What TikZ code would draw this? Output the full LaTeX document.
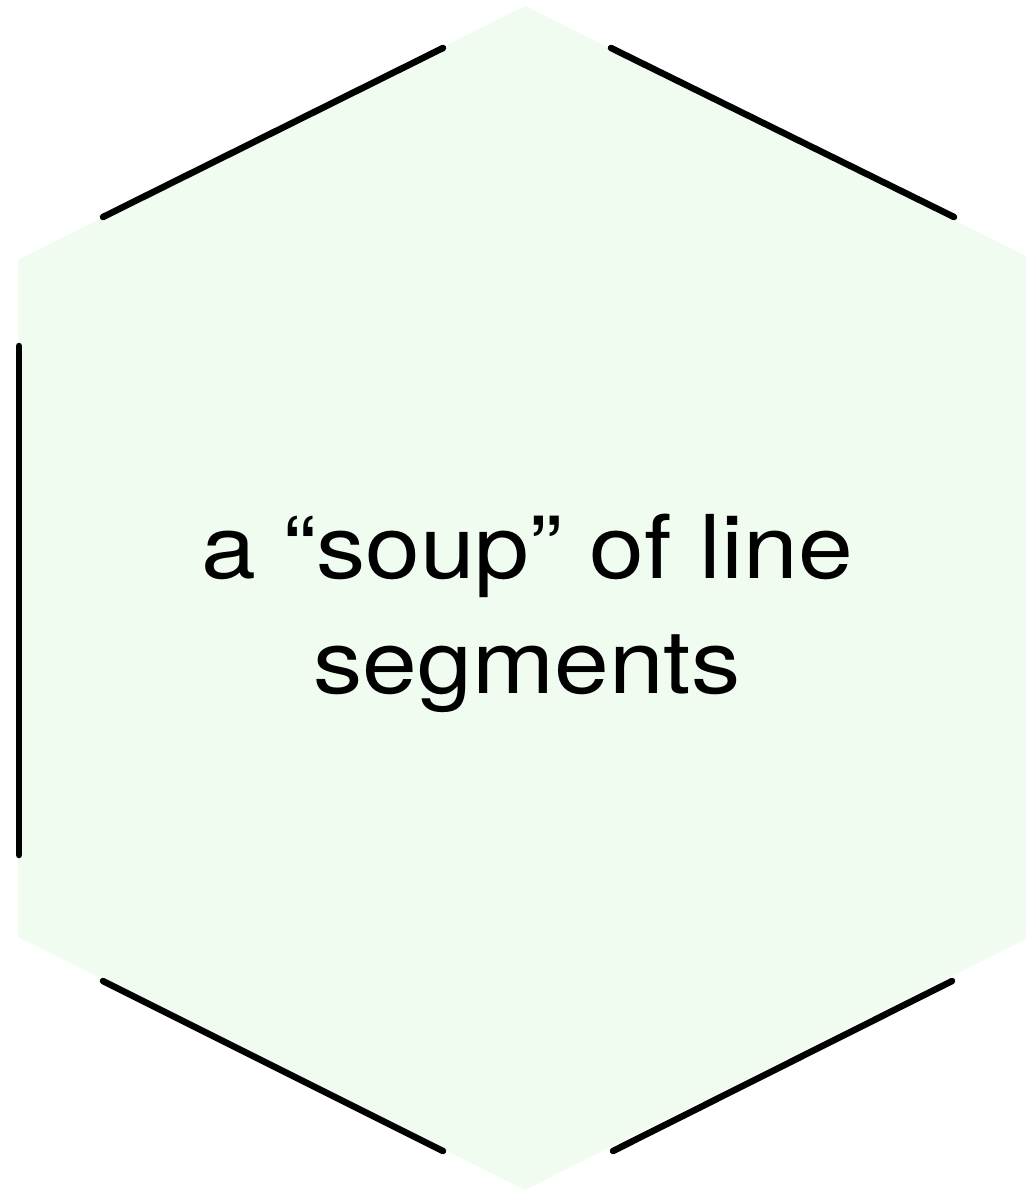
\documentclass[tikz,border=0pt]{standalone}
\usepackage{fontspec}
\setmainfont{TeX Gyre Heros}
\newfontfamily\lblfont[FakeStretch=1.12]{TeX Gyre Heros}
\definecolor{hexfill}{HTML}{F0FCF0}
\tikzset{
  seg/.style={line width=6.5pt, line cap=round, black},
  hexbg/.style={fill=hexfill, draw=none},
  lbl/.style={align=center, font=\lblfont\fontsize{88}{115}\selectfont, inner sep=0pt}
}
\begin{document}
\begin{tikzpicture}[x=1pt,y=-1pt]
\useasboundingbox (0,0) rectangle (1025,1190);
\fill[hexbg] (525,6) -- (1030,258) -- (1030,937) -- (525,1190) -- (18,937) -- (18,260) -- cycle;
\coordinate (a1) at (103,217); \coordinate (a2) at (443,48);
\coordinate (b1) at (611,48);  \coordinate (b2) at (954,217);
\coordinate (c1) at (19,346);  \coordinate (c2) at (19,855);
\coordinate (d1) at (103,981); \coordinate (d2) at (443,1151);
\coordinate (e1) at (613,1151); \coordinate (e2) at (952,981);
\draw[seg] (a1) -- (a2);
\draw[seg] (b1) -- (b2);
\draw[seg] (c1) -- (c2);
\draw[seg] (d1) -- (d2);
\draw[seg] (e1) -- (e2);
\node[lbl, anchor=base] (t) at (527,693) {a “soup” of line\\segments};
\end{tikzpicture}
\end{document}
